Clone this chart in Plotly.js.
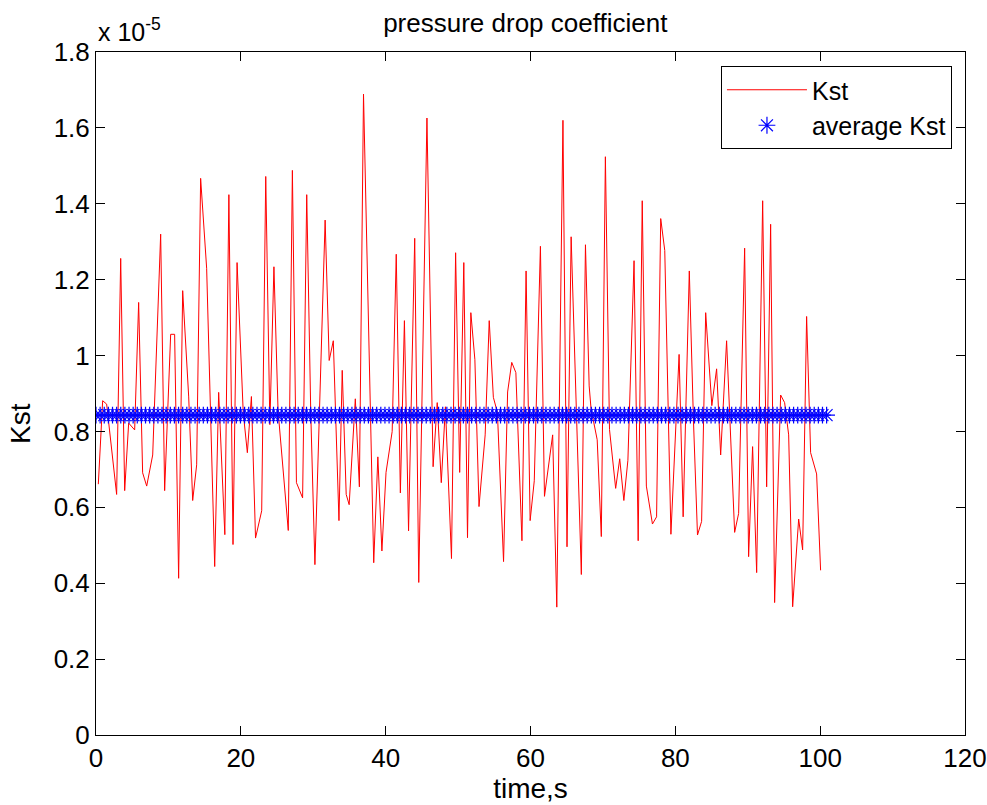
<!DOCTYPE html>
<html>
<head>
<meta charset="utf-8">
<script src="https://cdn.plot.ly/plotly-3.0.1.min.js"></script>
<style>
html,body{margin:0;padding:0;background:#ffffff;}
#chart{width:987px;height:805px;}
</style>
</head>
<body>
<div id="chart"></div>
<script>
// time, s
const timeS = [
  0.32, 0.92, 1.47, 2.85, 3.41, 3.96, 4.51, 5.34, 5.89, 6.44, 7.00, 7.83, 8.93, 9.48,
  10.31, 10.86, 11.41, 11.97, 12.80, 13.35, 13.90, 14.45, 15.28, 16.39, 16.94,
  17.79, 18.35, 18.92, 19.48, 20.33, 20.90, 21.46, 22.03, 22.88, 23.44, 24.01, 24.57,
  25.14, 26.55, 27.12, 27.68, 28.53, 29.10, 29.66, 30.23, 30.79, 31.64, 32.20, 32.77,
  33.55, 34.00, 34.55, 34.96, 35.81, 36.37, 36.94, 38.35, 38.92, 39.48, 40.05, 40.90,
  41.46, 42.03, 42.59, 43.16, 44.01, 44.57, 45.70, 46.55, 47.12, 47.68, 48.25, 49.09,
  49.66, 50.22, 50.79, 51.30, 51.76, 52.32, 52.89, 53.74, 54.30, 54.87, 55.43, 56.28,
  56.84, 57.41, 57.98, 58.82, 59.39, 59.95, 60.52, 61.37, 61.93, 63.06, 63.63, 64.48,
  65.04, 65.61, 67.02, 67.59, 68.10, 68.36, 69.21, 69.78, 70.34, 70.91, 71.76, 72.32,
  72.89, 73.45, 74.30, 74.87, 75.43, 76.00, 76.84, 77.41, 77.98, 78.54, 79.39, 80.52,
  81.08, 81.93, 82.50, 83.06, 83.63, 84.19, 85.04, 85.70, 86.26, 87.08, 88.19, 88.74,
  89.57, 90.12, 90.67, 91.23, 92.06, 92.61, 93.16, 93.71, 94.54, 95.09, 95.65, 96.20,
  97.03, 97.58, 98.13, 98.68, 99.51, 100.06
];
// Kst, in units of 1e-5
const kst = [
  0.661, 0.881, 0.872, 0.634, 1.256, 0.644, 0.822, 0.804, 1.140, 0.691, 0.656, 0.738, 1.320, 0.644,
  1.056, 1.056, 0.413, 1.171, 0.891, 0.618, 0.712, 1.467, 1.230, 0.444, 0.903,
  0.528, 1.424, 0.502, 1.245, 0.850, 0.744, 0.892, 0.519, 0.591, 1.472, 0.818, 1.234,
  0.855, 0.539, 1.488, 0.665, 0.625, 1.424, 0.845, 0.449, 0.827, 1.357, 0.987, 1.039,
  0.565, 0.961, 0.634, 0.607, 0.886, 0.654, 1.689, 0.454, 0.733, 0.485, 0.692, 0.800,
  1.267, 0.638, 1.092, 0.538, 1.309, 0.402, 1.626, 0.707, 0.876, 0.665, 0.865, 0.465,
  1.271, 0.692, 1.245, 0.520, 1.113, 0.989, 0.602, 0.791, 1.092, 0.890, 0.850, 0.457,
  0.904, 0.982, 0.955, 0.512, 1.223, 0.565, 0.670, 1.288, 0.629, 0.791, 0.337, 1.620,
  0.496, 1.313, 0.423, 1.292, 0.920, 0.860, 0.778, 0.523, 1.524, 0.805, 0.650, 0.728,
  0.618, 0.724, 1.250, 0.512, 1.408, 0.656, 0.556, 0.575, 1.361, 1.277, 0.529, 1.003,
  0.575, 1.223, 0.830, 0.527, 0.563, 1.113, 0.868, 0.965, 0.738, 1.039, 0.534, 0.584,
  1.283, 0.470, 0.760, 0.428, 1.408, 0.654, 1.346, 0.349, 0.896, 0.876, 0.791, 0.338,
  0.569, 0.488, 1.103, 0.744, 0.688, 0.434
];
// average Kst (units of 1e-5)
const avgKst = 0.843;
// times at which the average markers are drawn
const avgTime = [
  0, 0.57, 1.14, 1.71, 2.28, 2.85, 3.42, 3.99, 4.56, 5.13, 5.70, 6.27, 6.84, 7.41, 7.98,
  8.55, 9.12, 9.69, 10.26, 10.83, 11.40, 11.97, 12.54, 13.11, 13.68, 14.25, 14.82, 15.39,
  15.96, 16.53, 17.10, 17.67, 18.24, 18.81, 19.38, 19.95, 20.52, 21.09, 21.66, 22.23,
  22.80, 23.37, 23.94, 24.51, 25.08, 25.65, 26.22, 26.79, 27.36, 27.93, 28.50, 29.07,
  29.64, 30.21, 30.78, 31.35, 31.92, 32.49, 33.06, 33.63, 34.20, 34.77, 35.34, 35.91,
  36.48, 37.05, 37.62, 38.19, 38.76, 39.33, 39.90, 40.47, 41.04, 41.61, 42.18, 42.75,
  43.32, 43.89, 44.46, 45.03, 45.60, 46.17, 46.74, 47.31, 47.88, 48.45, 49.02, 49.59,
  50.16, 50.73, 51.30, 51.87, 52.44, 53.01, 53.58, 54.15, 54.72, 55.29, 55.86, 56.43,
  57.00, 57.57, 58.14, 58.71, 59.28, 59.85, 60.42, 60.99, 61.56, 62.13, 62.70, 63.27,
  63.84, 64.41, 64.98, 65.55, 66.12, 66.69, 67.26, 67.83, 68.40, 68.97, 69.54, 70.11,
  70.68, 71.25, 71.82, 72.39, 72.96, 73.53, 74.10, 74.67, 75.24, 75.81, 76.38, 76.95,
  77.52, 78.09, 78.66, 79.23, 79.80, 80.37, 80.94, 81.51, 82.08, 82.65, 83.22, 83.79,
  84.36, 84.93, 85.50, 86.07, 86.64, 87.21, 87.78, 88.35, 88.92, 89.49, 90.06, 90.63,
  91.20, 91.77, 92.34, 92.91, 93.48, 94.05, 94.62, 95.19, 95.76, 96.33, 96.90, 97.47,
  98.04, 98.61, 99.18, 99.75, 100.32, 100.89
];
const xTicks = [0, 20, 40, 60, 80, 100, 120];
const yTicks = [0, 0.2, 0.4, 0.6, 0.8, 1, 1.2, 1.4, 1.6, 1.8];

const avgVals = avgTime.map(function(){ return avgKst; });

const FONT = 'Liberation Sans, Arial, sans-serif';

const traces = [
  {
    x: timeS, y: kst, type: 'scatter', mode: 'lines', name: 'Kst',
    line: {color: '#ff0000', width: 1}
  },
  {
    x: avgTime, y: avgVals, type: 'scatter', mode: 'markers', name: 'average Kst',
    marker: {symbol: 'asterisk-open', size: 14, color: '#0000ff', line: {color: '#0000ff', width: 1.2}}
  }
];

const axisCommon = {
  showline: true, linecolor: '#000000', linewidth: 1, mirror: 'ticks',
  ticks: 'inside', ticklen: 9, tickwidth: 1, tickcolor: '#000000',
  showgrid: false, zeroline: false,
  tickfont: {family: FONT, size: 26, color: '#000000'}
};

const layout = {
  width: 987, height: 805,
  paper_bgcolor: '#ffffff', plot_bgcolor: '#ffffff',
  margin: {l: 96, r: 22, t: 52, b: 70, pad: 0},
  font: {family: FONT, color: '#000000'},
  title: {
    text: 'pressure drop coefficient',
    font: {family: FONT, size: 26, color: '#000000'},
    x: 0.494, xref: 'paper', xanchor: 'center',
    y: 0.972, yref: 'container', yanchor: 'middle'
  },
  xaxis: Object.assign({}, axisCommon, {
    range: [0, 120], tickmode: 'array', tickvals: xTicks,
    title: {text: 'time,s', font: {family: FONT, size: 28, color: '#000000'}, standoff: 4}
  }),
  yaxis: Object.assign({}, axisCommon, {
    range: [0, 1.8], tickmode: 'array', tickvals: yTicks
  }),
  showlegend: true,
  legend: {
    x: 0.985, xanchor: 'right', y: 0.9795, yanchor: 'top',
    bgcolor: '#ffffff', bordercolor: '#000000', borderwidth: 1,
    itemwidth: 80, entrywidth: 242, tracegroupgap: 0,
    font: {family: FONT, size: 25, color: '#000000'}
  },
  annotations: [
    {
      text: 'x 10<sup>-5</sup>', xref: 'paper', yref: 'paper',
      x: 0, xanchor: 'left', y: 1.006, yanchor: 'bottom', showarrow: false,
      font: {family: FONT, size: 25, color: '#000000'}
    },
    {
      text: 'Kst', xref: 'paper', yref: 'paper', textangle: -90,
      x: -0.087, xanchor: 'center', y: 0.456, yanchor: 'middle', showarrow: false,
      font: {family: FONT, size: 28, color: '#000000'}
    }
  ]
};

Plotly.newPlot('chart', traces, layout, {displayModeBar: false, responsive: false});
</script>
</body>
</html>
